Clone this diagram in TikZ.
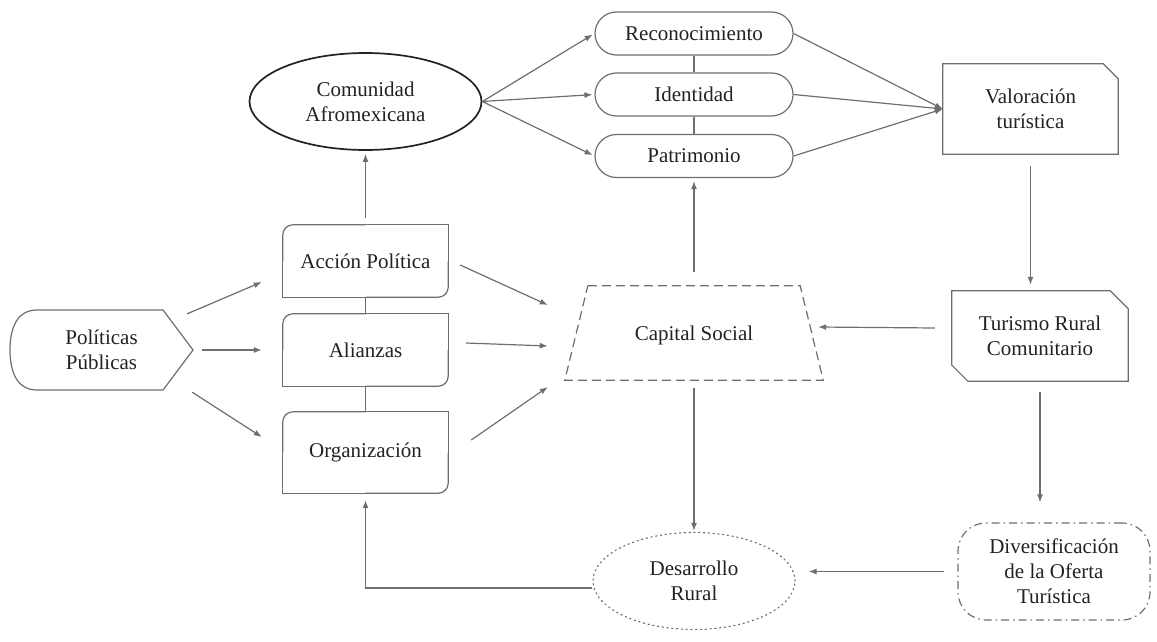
\documentclass[tikz,border=0pt]{standalone}
\usepackage{fontspec}
\IfFontExistsTF{LiberationSerif-Regular.ttf}
  {\setmainfont{LiberationSerif}[Extension=.ttf, UprightFont=*-Regular, BoldFont=*-Bold, ItalicFont=*-Italic, BoldItalicFont=*-BoldItalic]}
  {\setmainfont{Liberation Serif}}
\usetikzlibrary{shapes.geometric,shapes.misc,arrows.meta,calc}
\definecolor{linegray}{HTML}{6E6E6E}
\definecolor{textgray}{HTML}{222222}
\tikzset{
  txt/.style={text=textgray, align=center, inner sep=0pt, font=\rmfamily\fontsize{21}{25}\selectfont},
  boxline/.style={draw=linegray, line width=1.2pt},
  link/.style={draw=linegray, line width=1.2pt},
  arr/.style={link, -{Latex[length=8pt,width=6pt]}},
  leaf/.style={txt, minimum width=165pt, minimum height=72pt},
  pill/.style={txt, boxline, rounded rectangle, minimum width=198pt, minimum height=43pt}
}
\newcommand{\leafbox}[1]{%
  \draw[boxline, rounded corners=10pt] (#1.west) -- (#1.north west) -- (#1.north);
  \draw[boxline] (#1.north) -- (#1.north east) -- (#1.east);
  \draw[boxline, rounded corners=10pt] (#1.east) -- (#1.south east) -- (#1.south);
  \draw[boxline] (#1.south) -- (#1.south west) -- (#1.west);}
\begin{document}
\begin{tikzpicture}[x=1pt,y=-1pt]
    \useasboundingbox (0,0) rectangle (1157,642);
    \node[txt, minimum width=183pt, minimum height=80pt] (pol) at (101.5,350) {Políticas\\Públicas};
    \draw[boxline] (37,310) -- (163,310) -- (193,350) -- (163,390) -- (37,390) .. controls (17,390) and (10,372) .. (10,350) .. controls (10,328) and (17,310) .. cycle;
    \node[leaf] (accion) at (365.5,261) {Acción Política};
    \node[leaf] (alianzas) at (365.5,350) {Alianzas};
    \node[leaf, minimum height=81pt] (organizacion) at (365.5,452.5) {Organización};
    \leafbox{accion} \leafbox{alianzas} \leafbox{organizacion}
    \node[txt, ellipse, draw=textgray, line width=1.7pt, minimum width=232pt, minimum height=97pt] (comunidad) at (365.5,101.5) {Comunidad\\Afromexicana};
    \node[pill] (reconocimiento) at (694,33.5) {Reconocimiento};
    \node[pill] (identidad) at (694,94.5) {Identidad};
    \node[pill] (patrimonio) at (694,156) {Patrimonio};
    \node[txt, minimum width=175pt, minimum height=90pt] (valoracion) at (1030.5,109) {Valoración\\turística};
    \draw[boxline] (valoracion.north west) -- ($(valoracion.north east)+(-15,0)$) -- ($(valoracion.north east)+(0,15)$) -- (valoracion.south east) -- (valoracion.south west) -- cycle;
    \node[txt, minimum width=176pt, minimum height=90pt] (turismo) at (1040,336) {Turismo Rural\\Comunitario};
    \draw[boxline] (turismo.north west) -- ($(turismo.north east)+(-18,0)$) -- ($(turismo.north east)+(0,18)$) -- (turismo.south east) -- ($(turismo.south west)+(16,0)$) -- ($(turismo.south west)+(0,-16)$) -- cycle;
    \node[txt, minimum width=258pt, minimum height=94pt, text depth=-6pt] (capital) at (694,333) {Capital Social};
    \draw[boxline, dash pattern=on 9pt off 5pt] ($(capital.north west)+(23,0)$) -- ($(capital.north east)+(-23,0)$) -- (capital.south east) -- (capital.south west) -- cycle;
    \node[txt, ellipse, boxline, dash pattern=on 1.2pt off 3.6pt, line cap=round, minimum width=202pt, minimum height=97pt] (desarrollo) at (694,581) {Desarrollo\\Rural};
    \node[txt, boxline, rounded corners=28pt, dash pattern=on 8pt off 4pt on 1.5pt off 4pt, minimum width=192pt, minimum height=97pt] (diversificacion) at (1054,571.5) {Diversificación\\de la Oferta\\Turística};

    \draw[arr] ($(pol.north east)+(-6,4)$) -- ($(accion.west)+(-21,21)$);
    \draw[arr] ($(pol.east)+(9,0)$) -- ($(alianzas.west)+(-21,0)$);
    \draw[arr] ($(pol.south east)+(-1,2)$) -- ($(organizacion.west)+(-21,-15.5)$);
    \draw[arr, shorten <=7pt, shorten >=3pt] (accion.north) -- (comunidad.south);
    \draw[link] (accion.south) -- (alianzas.north); \draw[link] (alianzas.south) -- (organizacion.north);
    \draw[arr, shorten >=2pt] (comunidad.east) -- (reconocimiento.west);
    \draw[arr, shorten >=2pt] (comunidad.east) -- (identidad.west);
    \draw[arr, shorten >=2pt] (comunidad.east) -- (patrimonio.west);
    \draw[link] (reconocimiento.south) -- (identidad.north); \draw[link] (identidad.south) -- (patrimonio.north);
    \draw[arr] (reconocimiento.east) -- (valoracion.west);
    \draw[arr] (identidad.east) -- (valoracion.west);
    \draw[arr] (patrimonio.east) -- (valoracion.west);
    \draw[arr, shorten <=12pt, shorten >=6pt] (valoracion.south) -- (valoracion.south |- turismo.north);
    \draw[arr] ($(turismo.west)+(-17,-8)$) -- ($(capital.east)+(-5,-6)$);
    \draw[arr, shorten <=14pt, shorten >=3pt] (capital.north) -- (patrimonio.south);
    \draw[arr, shorten <=8pt, shorten >=1pt] (capital.south) -- (desarrollo.north);
    \draw[arr] ($(accion.east)+(12,4)$) -- ($(capital.west)+(-17,-28)$);
    \draw[arr] ($(alianzas.east)+(18,-7)$) -- ($(capital.west)+(-17,13)$);
    \draw[arr] ($(organizacion.east)+(23,-12.5)$) -- ($(capital.west)+(-17,54)$);
    \draw[arr, shorten <=11pt, shorten >=20pt] (turismo.south) -- (turismo.south |- diversificacion.north);
    \draw[arr, shorten <=13pt, shorten >=13pt] (diversificacion.west) -- (diversificacion.west -| desarrollo.east);
    \draw[arr, shorten >=7pt] ($(desarrollo.west)+(0,7)$) -| (organizacion.south);
\end{tikzpicture}
\end{document}
